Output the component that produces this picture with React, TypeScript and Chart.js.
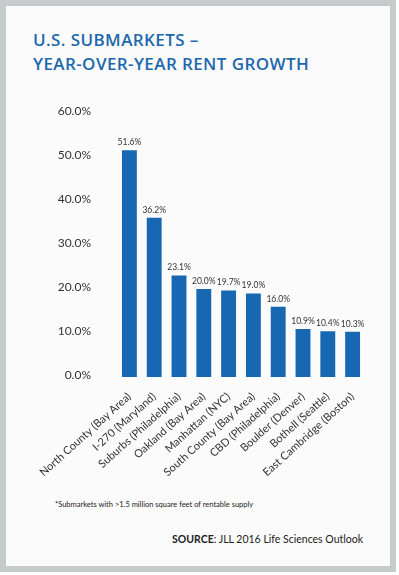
import React, { useEffect, useRef } from "react";
import { Chart, registerables } from "chart.js";

Chart.register(...registerables);

const categories = [
  "North County (Bay Area)",
  "I-270 (Maryland)",
  "Suburbs (Philadelphia)",
  "Oakland (Bay Area)",
  "Manhattan (NYC)",
  "South County (Bay Area)",
  "CBD (Philadelphia)",
  "Boulder (Denver)",
  "Bothell (Seattle)",
  "East Cambridge (Boston)",
];
const rentGrowth = [51.6, 36.2, 23.1, 20.0, 19.7, 19.0, 16.0, 10.9, 10.4, 10.3];
const yTicks = [0, 10, 20, 30, 40, 50, 60];

const BAR_COLOR = "#1767b3";

const valueLabels = {
  id: "valueLabels",
  afterDatasetsDraw(chart: any) {
    const ctx = chart.ctx;
    const meta = chart.getDatasetMeta(0);
    ctx.save();
    ctx.font = "8.5px Lato";
    ctx.fillStyle = "#333";
    ctx.textAlign = "center";
    ctx.textBaseline = "alphabetic";
    meta.data.forEach((el: any, i: number) => {
      ctx.fillText(rentGrowth[i].toFixed(1) + "%", el.x, el.y - 5);
    });
    ctx.restore();
  },
};

export default function App() {
  const ref = useRef<HTMLCanvasElement>(null);
  useEffect(() => {
    document.body.style.margin = "0";
    const chart = new Chart(ref.current!, {
      type: "bar",
      data: {
        labels: categories,
        datasets: [
          {
            data: rentGrowth,
            backgroundColor: BAR_COLOR,
            barPercentage: 0.6,
            categoryPercentage: 1,
          },
        ],
      },
      options: {
        animation: false,
        responsive: false,
        maintainAspectRatio: false,
        layout: { padding: { top: 16, right: 34, left: 0, bottom: 0 } },
        plugins: { legend: { display: false }, tooltip: { enabled: false } },
        scales: {
          x: {
            grid: { display: false, drawTicks: false },
            border: { display: false },
            ticks: {
              autoSkip: false,
              maxRotation: 42,
              minRotation: 42,
              padding: 13,
              color: "#333",
              font: { family: "Lato", size: 11 },
            },
            afterFit(axis: any) {
              axis.height = 123;
            },
          },
          y: {
            min: 0,
            max: 60,
            afterBuildTicks(axis: any) {
              axis.ticks = yTicks.map((v) => ({ value: v }));
            },
            grid: { display: false, drawTicks: false },
            border: { display: false },
            ticks: {
              padding: 26,
              labelOffset: -2,
              color: "#333",
              font: { family: "Lato", size: 12 },
              callback: (v: any) => Number(v).toFixed(1) + "%",
            },
            afterFit(axis: any) {
              axis.width = 117;
            },
          },
        },
      },
      plugins: [valueLabels],
    });
    return () => chart.destroy();
  }, []);

  return (
    <div style={{ position: "relative", width: 399, height: 575, background: "#ffffff", overflow: "hidden" }}>
      <div
        style={{
          position: "absolute",
          left: 0,
          top: 0,
          width: 396,
          height: 572,
          boxSizing: "border-box",
          border: "6px solid #c6cccb",
          background: "#fbfbfb",
        }}
      />
      <div
        style={{
          position: "absolute",
          left: 33,
          top: 28,
          fontFamily: "'Open Sans'",
          fontWeight: 600,
          fontSize: 17,
          lineHeight: "24px",
          letterSpacing: 0.4,
          color: "#2068ad",
          whiteSpace: "nowrap",
        }}
      >
        <div>U.S. SUBMARKETS –</div>
        <div>YEAR-OVER-YEAR RENT GROWTH</div>
      </div>
      <canvas ref={ref} width={399} height={420} style={{ position: "absolute", left: 0, top: 80, width: 399, height: 420 }} />
      <div
        style={{
          position: "absolute",
          left: 55,
          top: 500,
          fontFamily: "Lato",
          fontSize: 7.5,
          color: "#222",
          whiteSpace: "nowrap",
        }}
      >
        *Submarkets with &gt;1.5 million square feet of rentable supply
      </div>
      <div
        style={{
          position: "absolute",
          right: 36,
          top: 533,
          fontFamily: "Lato",
          fontSize: 10.5,
          color: "#222",
          whiteSpace: "nowrap",
        }}
      >
        <b>SOURCE</b>: JLL 2016 Life Sciences Outlook
      </div>
    </div>
  );
}
